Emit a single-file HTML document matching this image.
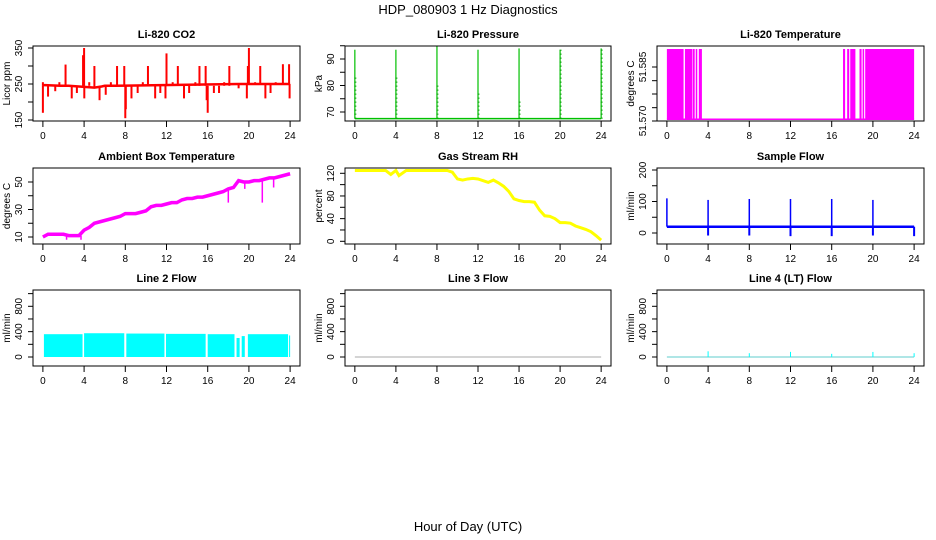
<!DOCTYPE html>
<html><head><meta charset="utf-8">
<style>
body{margin:0;background:#fff;}
svg{display:block;font-family:"Liberation Sans",sans-serif;}
</style></head>
<body>
<svg id="chart" width="936" height="540" viewBox="0 0 936 540">
<rect width="936" height="540" fill="#fff"/>
<text x="468" y="14" text-anchor="middle" font-size="13">HDP_080903  1 Hz Diagnostics</text>
<text x="468" y="531" text-anchor="middle" font-size="13">Hour of Day (UTC)</text>
</svg>
<script>
// ---- data ----
const xTicks=[0,4,8,12,16,20,24];
const co2BaseT=[0,0.2,1.7,2.5,5,5.7,6,7,19,24];
const co2BaseV=[247,247,245,245,240,243,245,245,250,250];
const co2SpikeT=[0,0,0.5,1.2,1.6,2.2,2.8,3.3,3.9,4.0,4.02,4.5,5,5.5,6.1,6.6,7.2,7.9,8,8.05,8.6,9.2,9.7,10.2,10.9,11.4,11.9,12,12.6,13.1,13.7,14.2,14.8,15.2,15.8,15.9,16,16.6,17.1,17.6,18.1,19.0,19.8,19.9,20,20.6,21.1,21.6,22.1,22.6,23.3,23.9,23.95];
const co2SpikeV=[170,255,215,230,255,304,210,225,330,350,210,255,300,205,220,255,300,300,155,180,210,225,255,300,210,225,210,335,255,300,210,225,255,300,300,205,170,225,225,255,300,238,210,300,350,255,300,210,225,255,305,305,210];
const presBase=67.5;
const presSpikeT=[0,4,8,12,16,20,24];
const presSpikeV=[93.5,93.5,95,93.5,94,93.5,94];
const presDotLow=[83,83,80,77,74,93.5,94];
const tempHigh=51.590, tempLow=51.5705;
const tempSegStart=[0,1.75,2.5,2.8,3.1,17.1,17.5,17.8,18.7,19.0,19.25];
const tempSegEnd=[1.62,2.45,2.7,2.95,3.4,17.3,17.7,18.3,18.9,19.15,24];
const ambT=[0,0.5,1,1.5,2,2.5,3,3.5,4,4.5,5,5.5,6,6.5,7,7.5,8,8.5,9,9.5,10,10.5,11,11.5,12,12.5,13,13.5,14,14.5,15,15.5,16,16.5,17,17.5,18,18.5,19,19.5,20,20.5,21,21.5,22,22.5,23,23.5,24];
const ambV=[10,12,12,12,12,11,11,11,15,17,20,21,22,23,24,25,27,27,27,28,29,32,33,33,34,35,35,37,38,38,39,39,40,41,42,43,45,46,51,50,50,51,51,52,53,53,54,55,56];
const ambDipT=[2.3,3.7,18,21.3,19.6,22.4];
const ambDipV=[8,8,35,35,45,46];
const rhT=[0,1,2,3,3.5,4,4.3,5,6,7,8,9,9.5,10,10.5,11,11.5,12,12.5,13,13.5,14,14.5,15,15.5,16,16.5,17,17.5,18,18.5,19,19.5,20,20.5,21,21.5,22,22.5,23,23.5,24];
const rhV=[125,125,125,125,118,125,116,125,125,125,125,125,122,110,108,110,111,110,107,104,108,103,97,88,75,72,70,70,69,55,45,44,40,33,33,32,27,24,21,17,10,2];
const flowBase=20;
const flowSpikeT=[0,4,8,12,16,20];
const flowSpikeV=[110,105,108,108,108,105];
const flowDipT=[4,8,12,16,20,24];
const flowDipV=[-8,-8,-10,-10,-8,-10];
const l2Start=[0.1,4.0,8.1,11.95,16.0,18.8,19.3,19.9,23.9];
const l2End=[3.85,7.9,11.8,15.8,18.6,19.1,19.6,23.8,24.0];
const l2Top=[360,375,370,365,360,300,330,360,340];
const l4SpikeT=[4,8,12,16,20,24];
const l4SpikeV=[90,60,80,50,80,60];

// ---- helpers ----
const svg=document.getElementById('chart');
const NS='http://www.w3.org/2000/svg';
function el(tag,attrs,parent){const e=document.createElementNS(NS,tag);for(const k in attrs)e.setAttribute(k,attrs[k]);(parent||svg).appendChild(e);return e;}
const cols=[[33,300],[345,611],[657,924]];
const rows=[[46,121],[168,244],[290,366]];
function xs(c){const [a,b]=cols[c];const k=(b-a)/25.92;return h=>a+(h+0.96)*k;}
function ys(v1,p1,v2,p2){return v=>p1+(v-v1)*(p2-p1)/(v2-v1);}

function panel(c,r,title,ylab,yticks,ylabels,y,name){
  const g=el('g',{});
  
  
  const [x0,x1]=cols[c],[y0,y1]=rows[r];const x=xs(c);
  const t=el('text',{x:(x0+x1)/2,y:y0-8,'text-anchor':'middle','font-size':'11','font-weight':'bold'},g);
  t.textContent=title;
  
  
  xTicks.forEach(v=>{
    el('line',{x1:x(v),x2:x(v),y1:y1,y2:y1+6,stroke:'#000'},g);
    const tl=el('text',{x:x(v),y:y1+18,'text-anchor':'middle','font-size':'10'},g);
    tl.textContent=v;
    
    
  });
  yticks.forEach((v,i)=>{
    const py=y(v);
    el('line',{x1:x0-5,x2:x0,y1:py,y2:py,stroke:'#000'},g);
    if(ylabels[i]!==''){
      const tl=el('text',{x:0,y:0,'text-anchor':'middle','font-size':'10',transform:`translate(${x0-11},${py}) rotate(-90)`},g);
      tl.textContent=ylabels[i];
      
      
    }
  });
  const yl=el('text',{x:0,y:0,'text-anchor':'middle','font-size':'10',transform:`translate(${x0-23},${(y0+y1)/2}) rotate(-90)`},g);
  yl.textContent=ylab;
  
  
  const plot=el('g',{},g);
  const box=el('rect',{x:x0,y:y0,width:x1-x0,height:y1-y0,fill:'none',stroke:'#000'},g);
  
  
  return {g:plot,x,y};
}
function vline(p,t,v1,v2,color,w,dash){
  const l=el('line',{x1:p.x(t),x2:p.x(t),y1:p.y(v1),y2:p.y(v2),stroke:color,'stroke-width':w||1.5},p.g);
  if(dash)l.setAttribute('stroke-dasharray',dash);
  
  
}
function poly(p,T,V,color,w,name){
  const pl=el('polyline',{points:T.map((t,i)=>p.x(t)+','+p.y(V[i])).join(' '),fill:'none',stroke:color,'stroke-width':w},p.g);
  
  
}

// CO2
let p=panel(0,0,'Li-820 CO2','Licor ppm',[150,200,250,300,350],['150','','250','','350'],ys(150,120,350,48),'panel-co2');
poly(p,co2BaseT,co2BaseV,'#f00',2.5,'co2-line');
co2SpikeT.forEach((t,i)=>{const b=co2BaseV[Math.max(0,co2BaseT.findIndex(u=>u>t)-1)]||247;vline(p,t,b,co2SpikeV[i],'#f00',2);});

// Pressure
p=panel(1,0,'Li-820 Pressure','kPa',[70,75,80,85,90,95],['70','','80','','90',''],ys(70,112,90,59),'panel-pressure');
el('line',{x1:p.x(0),x2:p.x(24),y1:p.y(presBase),y2:p.y(presBase),stroke:'#00c000','stroke-width':1.5},p.g);
presSpikeT.forEach((t,i)=>{vline(p,t,presBase,presSpikeV[i],'#00c000',1.2);vline(p,t+0.05,presBase,presDotLow[i],'#00a000',2,'1,3');});

// Temperature
p=panel(2,0,'Li-820 Temperature','degrees C',[51.570,51.5737,51.5775,51.5812,51.585],['51.570','','','','51.585'],ys(51.570,121,51.585,67),'panel-li820-temp');
el('line',{x1:p.x(0),x2:p.x(24),y1:p.y(tempLow),y2:p.y(tempLow),stroke:'#f0f','stroke-width':1.5},p.g);
tempSegStart.forEach((s,i)=>{
  const r=el('rect',{x:p.x(s),y:p.y(tempHigh),width:p.x(tempSegEnd[i])-p.x(s),height:p.y(tempLow)-p.y(tempHigh),fill:'#f0f'},p.g);
  
  
});

// Ambient
p=panel(0,1,'Ambient Box Temperature','degrees C',[10,20,30,40,50],['10','','30','','50'],ys(10,237,50,182),'panel-ambient-temp');
poly(p,ambT,ambV,'#f0f',3.5,'ambient-line');
ambDipT.forEach((t,i)=>{const j=Math.round(t*2);vline(p,t,ambV[j],ambDipV[i],'#f0f',1.5);});

// RH
p=panel(1,1,'Gas Stream RH','percent',[0,20,40,60,80,100,120],['0','','40','','80','','120'],ys(0,241.3,120,173.3),'panel-gas-rh');
poly(p,rhT,rhV,'#ff0',3,'rh-line');

// Sample flow
p=panel(2,1,'Sample Flow','ml/min',[0,50,100,150,200],['0','','100','','200'],ys(0,233,200,170),'panel-sample-flow');
el('line',{x1:p.x(0),x2:p.x(24),y1:p.y(flowBase),y2:p.y(flowBase),stroke:'#00f','stroke-width':2.5},p.g);
flowSpikeT.forEach((t,i)=>vline(p,t,flowBase,flowSpikeV[i],'#00f',1.5));
flowDipT.forEach((t,i)=>vline(p,t,flowBase,flowDipV[i],'#00f',2));

// Line 2
const yl3=ys(0,357,800,306.3);
p=panel(0,2,'Line 2 Flow','ml/min',[0,200,400,600,800,1000],['0','','400','','800',''],yl3,'panel-line2-flow');
l2Start.forEach((s,i)=>{
  const r=el('rect',{x:p.x(s),y:p.y(l2Top[i]),width:p.x(l2End[i])-p.x(s),height:p.y(0)-p.y(l2Top[i]),fill:'#0ff'},p.g);
  
  
});

// Line 3
p=panel(1,2,'Line 3 Flow','ml/min',[0,200,400,600,800,1000],['0','','400','','800',''],yl3,'panel-line3-flow');
el('line',{x1:p.x(0),x2:p.x(24),y1:p.y(0),y2:p.y(0),stroke:'#aaa','stroke-width':1},p.g);

// Line 4
p=panel(2,2,'Line 4 (LT) Flow','ml/min',[0,200,400,600,800,1000],['0','','400','','800',''],yl3,'panel-line4-flow');
el('line',{x1:p.x(0),x2:p.x(24),y1:p.y(0),y2:p.y(0),stroke:'#7fd8d8','stroke-width':1.2},p.g);
l4SpikeT.forEach((t,i)=>vline(p,t,0,l4SpikeV[i],'#0ff',1));
</script>
</body></html>
